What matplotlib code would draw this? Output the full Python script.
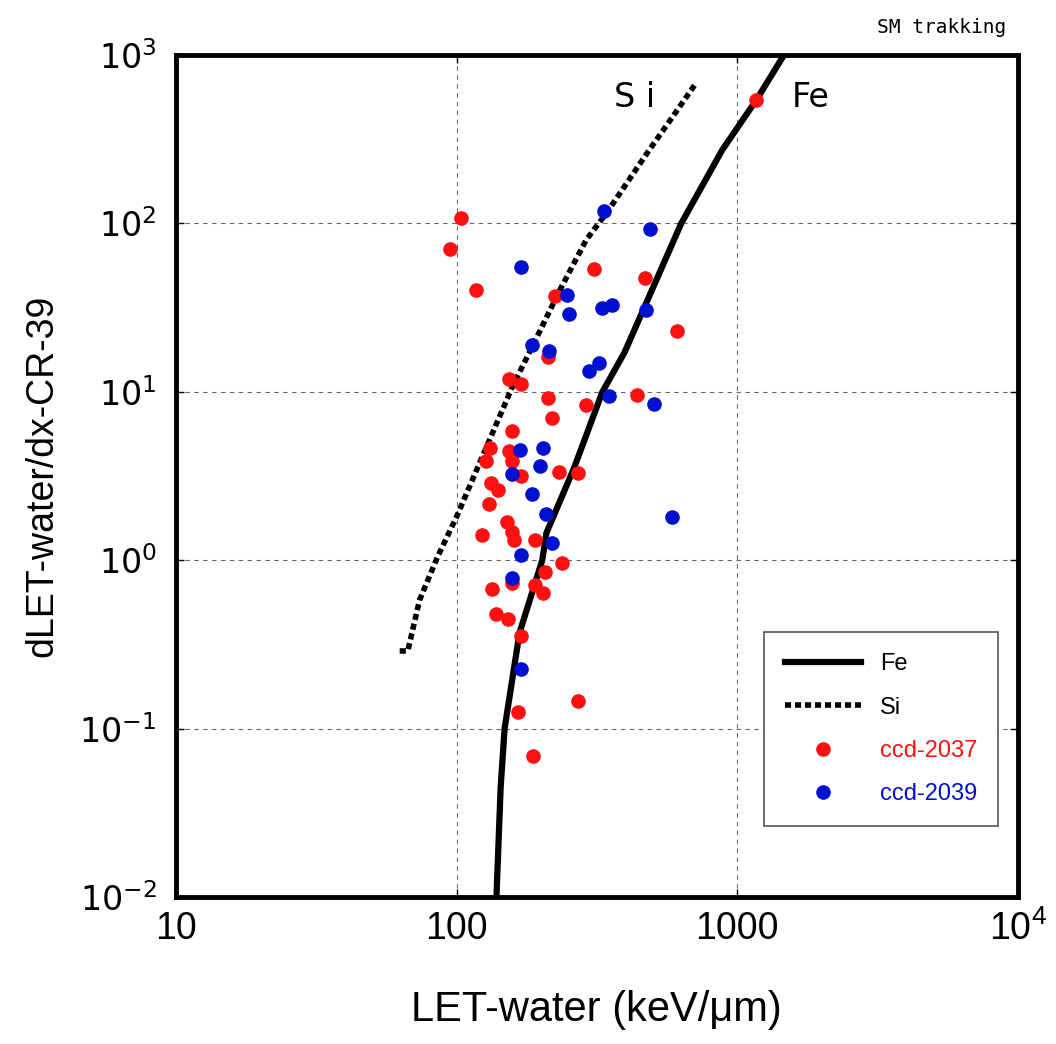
import matplotlib
matplotlib.use('Agg')
import matplotlib.pyplot as plt

# Fe and Si reference curves
fe_x = [138.7, 143.6, 148.3, 167.6, 202, 209, 263, 331, 396, 515, 632, 885, 1170, 1469]
fe_y = [0.01, 0.045, 0.1, 0.37, 1.0, 1.45, 3.57, 10, 17, 46, 100, 273, 540, 1000]

si_x = [62.7, 67, 73.8, 85.5, 100, 120.8, 158, 193, 233, 290, 342, 486, 588, 714]
si_y = [0.289, 0.289, 0.58, 1.045, 1.81, 3.78, 10.7, 21, 40, 80, 115, 273, 428, 682]

# ccd-2037 (red)
r_x = [1169, 104, 94.4, 117, 225, 310, 471, 611, 211, 154, 170, 212, 290, 441,
       218, 158, 132, 127, 154, 158, 170, 231, 272, 133, 140, 131, 151, 158,
       160, 123, 191, 238, 207, 191, 204, 134, 157, 138, 152, 169, 270, 165, 188]
r_y = [541, 108, 70.5, 40.3, 37.1, 53.6, 47.4, 23.0, 16.1, 11.9, 11.1, 9.19, 8.35, 9.57,
       6.99, 5.85, 4.64, 3.88, 4.45, 3.88, 3.16, 3.34, 3.29, 2.87, 2.61, 2.16, 1.69, 1.47,
       1.32, 1.41, 1.32, 0.96, 0.85, 0.71, 0.64, 0.67, 0.73, 0.48, 0.45, 0.355, 0.146, 0.126, 0.069]

# ccd-2039 (blue)
b_x = [336, 490, 170, 248, 252, 331, 359, 474, 185, 214, 297, 323, 350, 507,
       168, 204, 199, 157, 185, 209, 218, 587, 169, 157, 170]
b_y = [119, 92.6, 55.1, 37.6, 29.0, 31.4, 32.8, 30.6, 19.0, 17.5, 13.3, 14.8, 9.44, 8.46,
       4.51, 4.64, 3.63, 3.25, 2.47, 1.88, 1.26, 1.81, 1.07, 0.78, 0.226]

xticks = [10, 100, 1000, 10000]
xlabels = ['10', '100', '1000', '10$^4$']
yticks = [0.01, 0.1, 1, 10, 100, 1000]
ylabels = ['10$^{-2}$', '10$^{-1}$', '10$^{0}$', '10$^{1}$', '10$^{2}$', '10$^{3}$']

plt.rcParams['mathtext.default'] = 'regular'
sans = ['Liberation Sans', 'DejaVu Sans']

fig = plt.figure(figsize=(10.56, 10.44), dpi=100)
ax = fig.add_axes([0.1667, 0.1408, 0.797, 0.8065])

ax.plot(fe_x, fe_y, color='black', lw=4.5, label='Fe', zorder=3)
ax.plot(si_x, si_y, color='black', lw=4, linestyle=(0, (1.1, 0.7)), label='Si', zorder=3)
ax.plot(r_x, r_y, linestyle='none', marker='o', ms=9.5, color='#ff1010', label='ccd-2037', zorder=4)
ax.plot(b_x, b_y, linestyle='none', marker='o', ms=9.5, color='#0010d0', label='ccd-2039', zorder=4)

ax.set_xscale('log')
ax.set_yscale('log')
ax.set_xlim(10, 10000)
ax.set_ylim(0.01, 1000)
ax.minorticks_off()
ax.set_xticks(xticks)
ax.set_xticklabels(xlabels, fontsize=27, family=sans)
ax.set_yticks(yticks)
ax.set_yticklabels(ylabels, fontsize=24, family='DejaVu Sans')
ax.tick_params(direction='in', length=6, width=1, top=True, right=True)
ax.tick_params(axis='x', pad=10)
ax.tick_params(axis='y', pad=14)
ax.grid(True, color='#666666', linestyle=(0, (4, 4)), lw=0.8)
for s in ax.spines.values():
    s.set_linewidth(3.5)

ax.set_xlabel('LET-water (keV/\u03bcm)', fontsize=30, family=sans, labelpad=30)
ax.set_ylabel('dLET-water/dx-CR-39', fontsize=27, family=sans, labelpad=14)

ax.text(430, 560, 'S i', fontsize=24, family='DejaVu Sans', ha='center', va='center')
ax.text(1560, 560, 'Fe', fontsize=24, family='DejaVu Sans', ha='left', va='center')
fig.text(0.953, 0.974, 'SM trakking', fontsize=14, family='DejaVu Sans Mono', ha='right', va='center')

leg = ax.legend(loc='lower right', bbox_to_anchor=(0.977, 0.084), borderaxespad=0,
                prop={'family': sans, 'size': 17}, handlelength=3.2,
                labelspacing=0.9, borderpad=0.9, fancybox=False, framealpha=1,
                edgecolor='#555555', markerscale=1)
leg.get_frame().set_linewidth(1.2)
for t, c in zip(leg.get_texts(), ['black', 'black', '#ff1010', '#0010d0']):
    t.set_color(c)

fig.savefig('out.png', dpi=100)
